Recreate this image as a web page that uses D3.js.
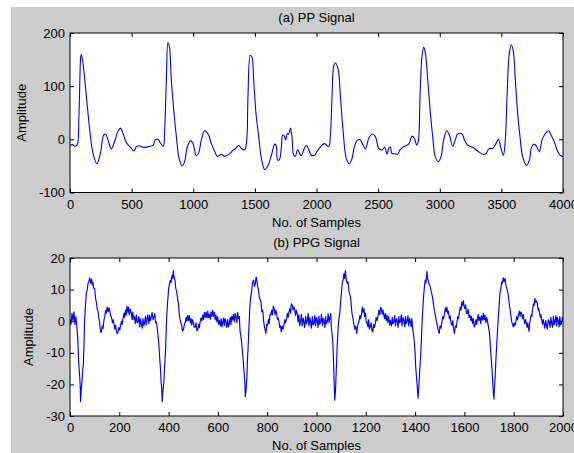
<!DOCTYPE html>
<html>
<head>
<meta charset="UTF-8">
<title>PP / PPG Signal</title>
<script src="https://cdn.jsdelivr.net/npm/d3@7"></script>
<style type="text/css">
	body {
		margin:0;
		background-color:white;
	}
	text {
		font-family:"Liberation Sans", Arial, sans-serif;
		font-size:13px;
		fill:#000;
	}
</style>
</head>
<body>
<script type="text/javascript">

// (a) PP signal : [sample, amplitude]
var ppSignal = [[0,-11],[20,-10],[38,-13],[57,-11],[73,49],[87,155],[92,160],[105,144],[133,81],[160,18],[187,-27],[219,-46],[246,-27],[273,8],[289,9.5],[308,-1],[335,-18],[362,-4],[390,15],[411,21],[430,11],[457,-6],[490,-15],[519,-22],[538,-14],[565,-12],[592,-15],[633,-14],[674,-11],[692,-1],[714,0],[736,-8],[757,-13],[768,18],[782,113],[795,182],[806,176],[822,113],[844,49],[863,5],[885,-36],[909,-50],[930,-42],[952,-14],[979,-2.5],[998,-8],[1025,-31],[1044,-25],[1066,-1],[1093,16],[1120,10],[1147,-8],[1174,-23],[1196,-32],[1228,-28],[1255,-32],[1296,-27],[1328,-19],[1342,-18],[1369,-11],[1390,-17],[1417,-20],[1434,-1],[1444,81],[1463,158],[1477,154],[1490,113],[1509,49],[1531,5],[1553,-36],[1580,-57],[1607,-49],[1634,-30],[1661,-9],[1672,-11],[1685,-39],[1699,-38],[1715,-14],[1726,8],[1739,6],[1750,-1],[1764,11],[1774,9.5],[1788,21],[1801,5],[1815,-30],[1828,-32],[1847,-19],[1864,-27],[1877,-31],[1896,-20],[1918,-11],[1937,-19],[1958,-30],[1983,-30],[2012,-20],[2045,-11],[2066,-8],[2099,-14],[2112,5],[2126,81],[2140,138],[2153,144],[2175,132],[2194,81],[2215,18],[2242,-36],[2267,-46],[2288,-36],[2307,-14],[2329,-2.5],[2351,0],[2378,-11],[2397,-18],[2424,2],[2451,10],[2478,5],[2505,-17],[2532,-20],[2553,-15],[2572,-28],[2586,-17],[2599,-14],[2613,-27],[2635,-27],[2659,-28],[2677,-20],[2713,-13],[2748,-9],[2775,6],[2794,2],[2813,-11],[2826,-4],[2840,81],[2856,157],[2870,173],[2883,163],[2902,113],[2924,49],[2943,5],[2964,-33],[2989,-42],[3010,-33],[3032,-1],[3056,16],[3078,8],[3105,-13],[3127,0],[3145,10],[3181,10],[3200,-1],[3227,-11],[3267,-15],[3308,-22],[3348,-28],[3375,-27],[3397,-18],[3429,-17],[3456,-8],[3475,0],[3497,-17],[3516,-30],[3532,-1],[3546,81],[3565,163],[3581,178],[3597,166],[3613,113],[3632,49],[3651,5],[3673,-33],[3705,-49],[3727,-39],[3746,-14],[3767,-9],[3787,-14],[3808,-23],[3830,-1],[3854,10],[3881,16],[3908,6],[3935,-8],[3957,-23],[3976,-30],[4000,-32]];

// (b) PPG signal : [sample, amplitude]
var ppgSignal = [[0,0.5],[4,-1],[8,2.5],[12,0.2],[16,3],[20,-1],[24,1.5],[28,-2],[32,-6],[35,-12.8],[38,-16],[41,-19.7],[43,-25.5],[46,-21],[49,-19],[52,-15],[54,-14],[57,-7],[59,-0.2],[62,4],[66,8.7],[70,10],[73,11.9],[76,12.5],[80,13.7],[83,12],[87,13.3],[90,11.5],[93,12.4],[96,10.5],[100,10.3],[104,7],[107,6.1],[110,4],[114,2.9],[117,1],[120,-0.2],[124,-3.5],[127,-3.4],[131,-1.5],[134,-2.3],[138,0.5],[141,1.4],[145,3.5],[148,2.5],[151,4.5],[155,3],[158,4.2],[161,3.5],[165,1.5],[168,1.4],[172,-0.5],[175,0.5],[178,-0.7],[182,-2.5],[185,-1.2],[188,-2.8],[191,-4],[195,-3.4],[198,-2],[202,-2.8],[205,-1.3],[209,0],[212,-1],[215,0.8],[219,2.5],[222,1.2],[225,3.5],[228,2],[231,4.8],[235,2.8],[238,4.5],[241,2],[245,3.8],[249,2.4],[252,0.5],[255,2.8],[259,0.6],[262,1.4],[265,-0.8],[269,2],[272,-0.5],[276,-0.2],[279,1.5],[283,-1.8],[286,0.8],[289,-0.7],[293,-2.2],[296,0.8],[300,-1.5],[303,-0.2],[306,1.6],[310,-1.2],[313,0.8],[316,2],[320,-0.8],[323,1.9],[326,0.2],[330,1.4],[333,2.8],[337,0.5],[341,1.4],[344,2.5],[347,-0.5],[350,-0.2],[353,-1.5],[357,-4.4],[360,-7],[364,-11.8],[367,-15],[370,-19.7],[372,-21],[374,-25.5],[377,-22],[381,-19],[384,-14],[388,-8.6],[391,-1],[395,5],[398,8],[400,10.3],[404,12],[407,13],[410,12.2],[414,14.5],[417,13.5],[419,16],[422,14],[426,13],[429,10.5],[433,9.3],[437,7],[440,5.6],[443,2.5],[446,0.8],[450,-0.5],[453,-1.3],[456,-3],[460,-2.8],[464,-1],[468,-0.2],[471,1.2],[474,0],[477,1.9],[481,0.2],[484,1.8],[488,-0.5],[491,0.8],[494,-1.2],[497,0.5],[500,-0.2],[504,-2],[508,-1.8],[511,-0.5],[515,-3],[518,-2.8],[522,-1],[525,-2],[527,-0.7],[531,1],[535,0.2],[538,1.9],[542,0.5],[545,2.8],[549,1.2],[552,2.9],[556,1],[559,3.2],[562,1.2],[565,2.1],[569,0.6],[572,3],[575,1.5],[579,3.5],[582,1.5],[586,2.8],[589,0.5],[592,1.9],[596,-0.2],[599,1.5],[603,-1],[606,0.3],[610,-1.5],[613,0.8],[616,-1.8],[619,-0.7],[623,1],[626,-1.5],[629,0.8],[633,-0.2],[636,-2],[640,0.5],[643,-1.8],[646,-1],[650,1.2],[653,-1],[656,1.5],[660,0.3],[663,2.2],[667,-0.2],[670,2.5],[673,1.4],[677,-0.5],[680,2.8],[684,0.8],[687,1.5],[690,-3.4],[693,-4.5],[696,-6.5],[700,-10],[703,-12.8],[706,-16],[709,-19],[711,-23.9],[714,-22],[718,-17],[720,-12],[723,-7.6],[727,0],[730,5],[734,8],[738,10.3],[741,12.5],[745,13],[748,11],[752,11.9],[755,14],[757,13.5],[761,11],[765,9.8],[768,7.5],[772,6.8],[775,6.1],[778,3],[782,3.5],[785,0.5],[788,-1.3],[791,-2.5],[795,-3.9],[798,-1],[801,-1.3],[805,0.5],[808,-0.8],[811,2],[814,1.9],[818,3.5],[821,2],[825,4.8],[828,4],[832,2],[835,3.5],[838,2.4],[842,0.5],[845,1],[848,-0.2],[851,-2],[854,-1.5],[857,-3.4],[861,-1.5],[864,-2.5],[868,-1.3],[871,0.5],[874,-0.5],[879,0.8],[882,2.5],[885,1.2],[888,2.9],[892,4],[895,2.5],[898,5.5],[902,5],[905,3.5],[908,4.5],[911,4],[915,1.8],[918,3.5],[922,2.4],[925,-0.2],[929,2],[932,-1.5],[936,0.3],[939,2.2],[942,-1.5],[946,1],[949,-0.2],[952,-2],[956,1.5],[959,-0.8],[963,0.3],[966,2.5],[969,-1.5],[973,1.2],[976,-0.2],[979,-2.2],[983,1.5],[986,-1.2],[990,-0.7],[993,1.8],[996,-1.5],[1000,1.2],[1003,0.3],[1006,-2],[1010,1.6],[1013,-1],[1017,-0.2],[1020,2.2],[1024,-1.5],[1027,1],[1030,0.3],[1034,-2],[1037,1.5],[1040,-0.8],[1044,-0.2],[1047,2.4],[1051,-0.5],[1055,1.4],[1058,2.5],[1060,-1.8],[1063,-4],[1066,-6.5],[1068,-10],[1070,-15],[1072,-20],[1074,-25],[1077,-22],[1079,-18],[1082,-12],[1084,-7.6],[1088,-2],[1091,0.8],[1095,3],[1098,6.1],[1101,9],[1105,12.4],[1108,13],[1111,15],[1114,13.5],[1117,16],[1121,13],[1125,11.9],[1128,12.5],[1132,9.3],[1135,8.5],[1139,7.2],[1142,4],[1145,1.9],[1149,0.5],[1152,-1.3],[1156,-2.5],[1159,-1.5],[1163,-3.9],[1166,-2],[1169,-0.8],[1172,-0.2],[1176,1.8],[1179,0.8],[1183,2.4],[1186,4.5],[1189,2.8],[1193,4],[1195,1.4],[1199,2.5],[1202,-0.5],[1205,-0.2],[1209,-1.8],[1212,0.5],[1215,-2.5],[1218,-1.8],[1222,-0.5],[1225,-3],[1228,-3.4],[1232,-1],[1235,-2],[1239,-0.7],[1242,1.2],[1246,0.2],[1250,1.9],[1253,3.5],[1257,2],[1260,4.5],[1263,4],[1267,2.2],[1270,3.5],[1272,2.4],[1276,0.8],[1279,2.5],[1283,0.2],[1286,1.9],[1290,-0.5],[1293,1.5],[1297,-1.2],[1300,0.3],[1304,-1.5],[1307,1.2],[1310,-0.8],[1313,-0.2],[1317,1.8],[1320,-1.5],[1324,0.8],[1327,0.3],[1331,-2],[1334,1.5],[1337,-0.5],[1340,-0.2],[1344,2],[1347,-1.5],[1351,1.2],[1354,0.3],[1358,-1.8],[1361,1.5],[1364,-0.8],[1367,-0.2],[1371,1.8],[1374,-1.5],[1378,1],[1381,-0.2],[1384,-1.8],[1387,0.8],[1390,-2.3],[1393,-4],[1397,-6.5],[1400,-10],[1402,-13.9],[1405,-17],[1408,-20],[1410,-22],[1412,-24.4],[1415,-21],[1417,-18],[1420,-14],[1423,-10.7],[1426,-5],[1429,0.8],[1432,5],[1436,9.3],[1438,11],[1441,13],[1444,12],[1448,15.8],[1451,13.5],[1455,12.4],[1458,11.5],[1462,10.8],[1465,9.5],[1469,8.2],[1472,7],[1475,5],[1478,3.5],[1482,1.9],[1485,0.5],[1488,-0.5],[1491,-1.8],[1494,-3],[1498,-3.9],[1501,-1.5],[1505,-2.2],[1509,-0.2],[1512,1.5],[1516,0.8],[1520,2.9],[1523,4.2],[1526,3],[1529,4.5],[1532,2.5],[1535,3.2],[1539,0.8],[1542,1.8],[1546,-0.8],[1550,-1.3],[1553,0.2],[1556,-2.5],[1560,-3.9],[1563,-1.5],[1567,-2],[1570,-0.2],[1573,1.5],[1576,0.8],[1579,2.4],[1583,4.5],[1586,3.5],[1590,6.1],[1593,5],[1596,6.5],[1599,4.5],[1602,4],[1605,5.2],[1608,2.5],[1612,2.4],[1615,3.8],[1619,1.2],[1623,1.9],[1626,0.2],[1629,1.5],[1633,-0.7],[1636,0.8],[1640,-1.8],[1643,-1.3],[1647,0.5],[1650,-1],[1652,0.3],[1656,2.2],[1659,0.2],[1663,1.4],[1666,-0.8],[1670,1.8],[1674,0.3],[1677,2.5],[1680,0.5],[1683,1.9],[1687,-0.5],[1690,1.2],[1693,0.3],[1697,-1.5],[1701,-3.4],[1704,-6],[1706,-8.6],[1709,-12],[1712,-15],[1714,-18],[1716,-21],[1718,-23],[1720,-24.6],[1722,-21],[1725,-17],[1728,-12],[1731,-7.6],[1735,-2],[1738,1.9],[1741,5],[1744,8.7],[1748,10.5],[1751,12.4],[1754,12],[1758,13.7],[1761,12.5],[1765,13.5],[1768,11.5],[1771,10.8],[1775,9.5],[1778,8.2],[1781,6],[1785,4],[1788,2],[1792,-0.2],[1795,-1],[1798,-1.8],[1802,-0.5],[1805,-1.5],[1809,-0.2],[1812,1.5],[1816,0.5],[1819,1.9],[1823,3.2],[1826,1.5],[1829,3],[1832,2.4],[1836,0.8],[1839,2.2],[1841,0.8],[1845,-0.8],[1848,0.5],[1850,-0.2],[1854,-2],[1857,-0.5],[1859,-1.8],[1862,-3.2],[1865,-0.5],[1867,0.3],[1871,2],[1874,1.5],[1877,4],[1880,5.5],[1883,5],[1886,7.2],[1889,6],[1892,6.5],[1896,5.6],[1899,3.5],[1902,4],[1904,2.9],[1908,1.2],[1911,2],[1913,0.8],[1917,-1],[1920,0.5],[1923,-0.7],[1926,-2.2],[1930,0.2],[1933,-1.3],[1936,-2.5],[1940,0.5],[1944,-0.2],[1947,-2],[1951,1.2],[1954,-0.7],[1957,-2],[1961,1.5],[1964,-1.2],[1967,-0.2],[1971,1.8],[1974,-1.5],[1977,1.2],[1980,0.3],[1984,-1.8],[1987,1.5],[1990,-1.2],[1994,-0.7],[1997,1.2],[2000,0.2]];

var ppXTicks = [0,500,1000,1500,2000,2500,3000,3500,4000],
 ppYTicks = [-100,0,100,200],
 ppgXTicks = [0,200,400,600,800,1000,1200,1400,1600,1800,2000],
 ppgYTicks = [-30,-20,-10,0,10,20];

var titles = ['(a) PP Signal','(b) PPG Signal'],
 xTitle = 'No. of Samples',
 yTitle = 'Amplitude';

var large = 574, haut = 453;

var svg = d3.select('body').append('svg')
	.attr('width',large)
	.attr('height',haut);

// fond gris de la figure
svg.append('rect')
	.attr('x',11).attr('y',7)
	.attr('width',large-11).attr('height',haut-7)
	.attr('fill','#cccccc');

var panels = [
	{id:'pp', data:ppSignal, xd:[0,4000], yd:[-100,200], xt:ppXTicks, yt:ppYTicks,
	 top:33, bot:192.5, title:titles[0], ylabX:26, curve:d3.curveCatmullRom, sw:1.1},
	{id:'ppg', data:ppgSignal, xd:[0,2000], yd:[-30,20], xt:ppgXTicks, yt:ppgYTicks,
	 top:258, bot:416, title:titles[1], ylabX:33, curve:d3.curveLinear, sw:1.15}
];

var left = 70, right = 563;

panels.forEach(function(p){
	var x = d3.scaleLinear().domain(p.xd).range([left,right]);
	var y = d3.scaleLinear().domain(p.yd).range([p.bot,p.top]);
	var g = svg.append('g');

	g.append('rect')
		.attr('x',left).attr('y',p.top)
		.attr('width',right-left).attr('height',p.bot-p.top)
		.attr('fill','white');

	g.append('clipPath').attr('id','clip'+p.id)
		.append('rect')
		.attr('x',left).attr('y',p.top)
		.attr('width',right-left).attr('height',p.bot-p.top);

	var line = d3.line()
		.x(function(d){ return x(d[0]); })
		.y(function(d){ return y(d[1]); })
		.curve(p.curve);

	g.append('path')
		.datum(p.data)
		.attr('clip-path','url(#clip'+p.id+')')
		.attr('fill','none')
		.attr('stroke','#0000ff')
		.attr('stroke-width',p.sw)
		.attr('stroke-linejoin','round')
		.attr('d',line);

	// axes, ticks vers l'interieur sur les 4 cotes
	var fmt = function(d){ return String(d); };
	var ax = [
		d3.axisBottom(x).tickValues(p.xt).tickSizeInner(-4).tickSizeOuter(0).tickPadding(7).tickFormat(fmt),
		d3.axisTop(x).tickValues(p.xt).tickSizeInner(-4).tickSizeOuter(0).tickFormat(''),
		d3.axisLeft(y).tickValues(p.yt).tickSizeInner(-4).tickSizeOuter(0).tickPadding(5).tickFormat(fmt),
		d3.axisRight(y).tickValues(p.yt).tickSizeInner(-4).tickSizeOuter(0).tickFormat('')
	];
	var pos = ['translate(0,'+p.bot+')','translate(0,'+p.top+')',
		'translate('+left+',0)','translate('+right+',0)'];
	ax.forEach(function(a,i){
		var ga = g.append('g').attr('transform',pos[i]).call(a);
		ga.select('.domain').remove();
		ga.selectAll('.tick line').attr('stroke','#000');
		ga.selectAll('.tick text')
			.attr('fill','#000')
			.style('font-family','"Liberation Sans", Arial, sans-serif')
			.style('font-size','13px');
	});

	g.append('rect')
		.attr('x',left).attr('y',p.top)
		.attr('width',right-left).attr('height',p.bot-p.top)
		.attr('fill','none')
		.attr('stroke','#000')
		.attr('stroke-width',1);

	g.append('text')
		.attr('x',(left+right)/2).attr('y',p.top-11)
		.attr('text-anchor','middle')
		.text(p.title);

	g.append('text')
		.attr('x',(left+right)/2).attr('y',p.bot+34)
		.attr('text-anchor','middle')
		.text(xTitle);

	g.append('text')
		.attr('transform','translate('+p.ylabX+','+((p.top+p.bot)/2)+') rotate(-90)')
		.attr('text-anchor','middle')
		.text(yTitle);
});

</script>
</body>
</html>
